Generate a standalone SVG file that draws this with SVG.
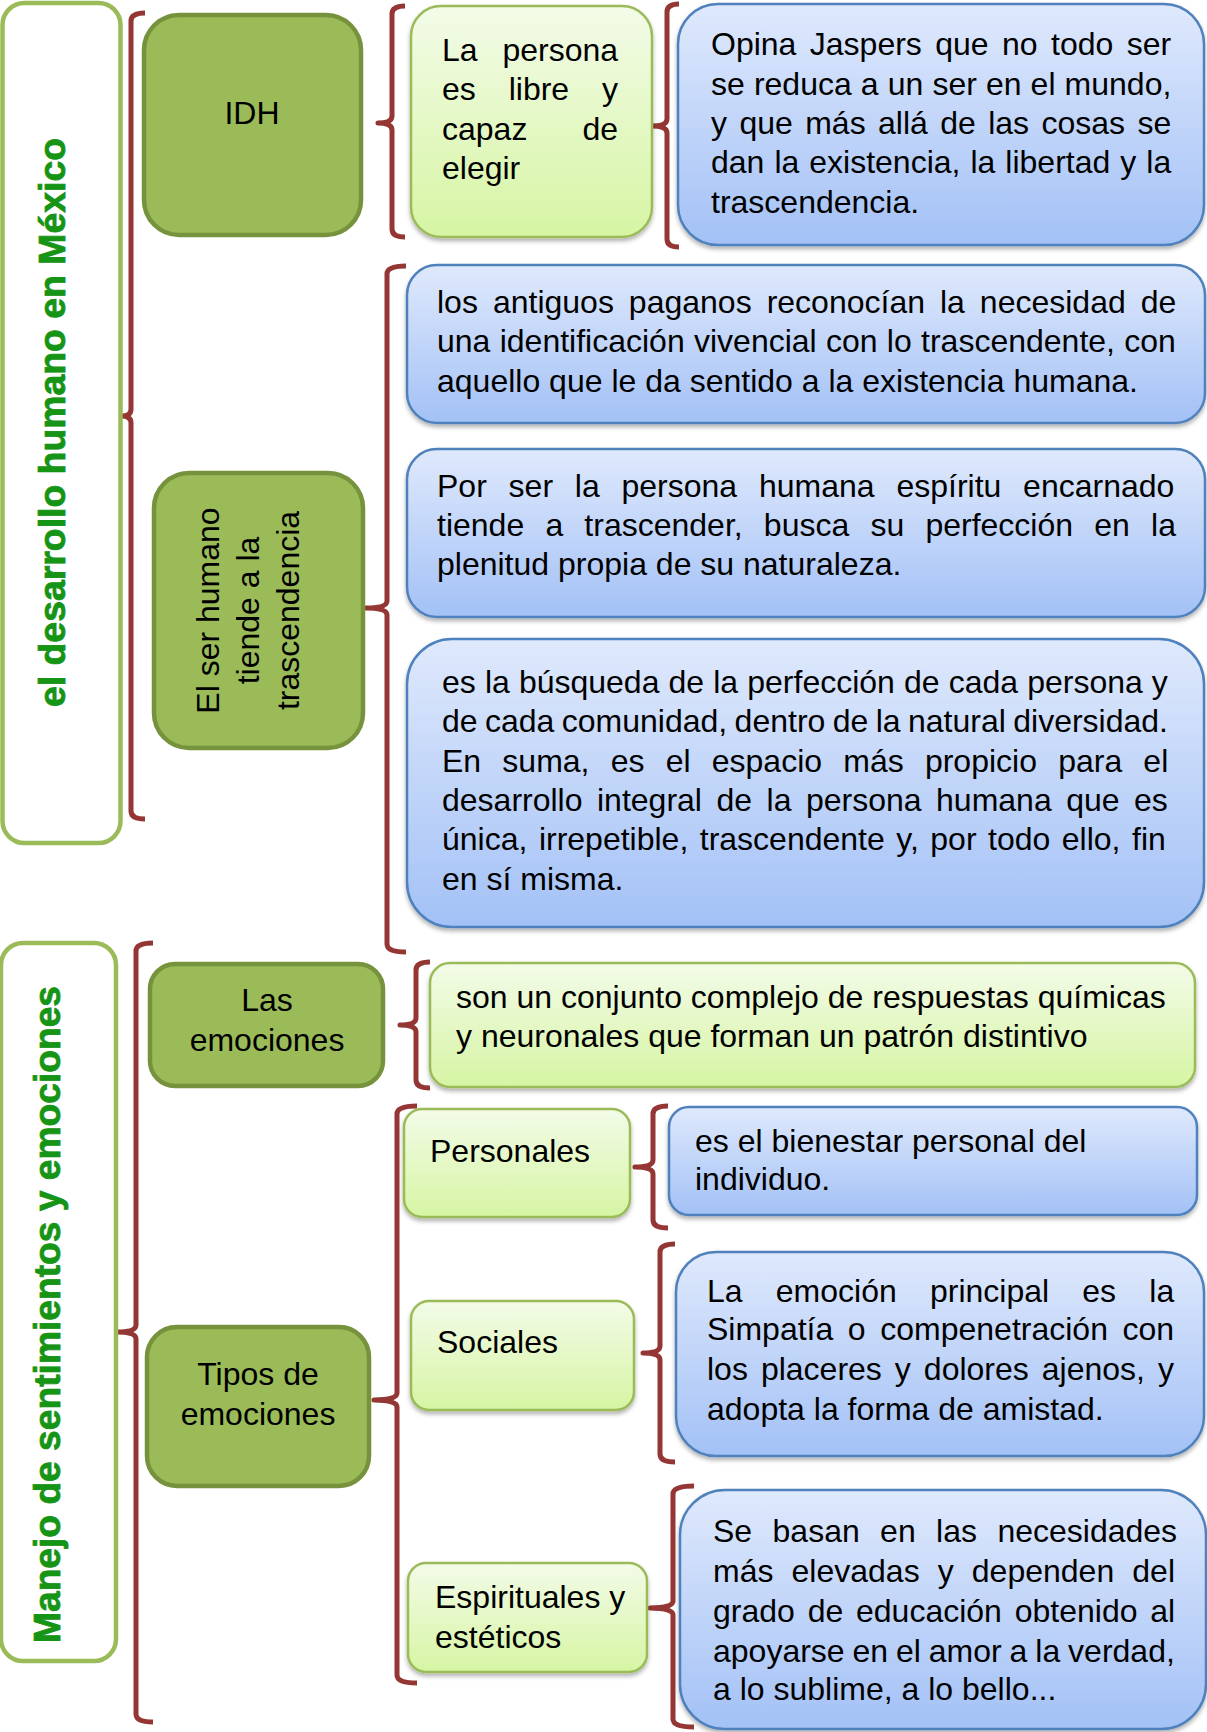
<svg xmlns="http://www.w3.org/2000/svg" width="1207" height="1732" viewBox="0 0 1207 1732">
<style>
text{font-family:"Liberation Sans",Arial,sans-serif;font-size:32px;fill:#000}
.title{font-weight:bold;font-size:37px;fill:#169416;stroke:#169416;stroke-width:0.8}
.frame{fill:#fff;stroke:#9BBB59;stroke-width:4.5}
.dark{fill:#9BBB59;stroke:#76923C;stroke-width:4.5}
.light{fill:url(#gLight);stroke:#9BBB59;stroke-width:2.5;filter:url(#sh)}
.blue{fill:url(#gBlue);stroke:#4F81BD;stroke-width:2.5;filter:url(#sh)}
.br{fill:none;stroke:#943634;stroke-width:5;stroke-linejoin:round;stroke-linecap:butt}
.mid{text-anchor:middle}
</style>
<defs>
<linearGradient id="gBlue" x1="0" y1="0" x2="0" y2="1">
<stop offset="0" stop-color="#DFE9FC"/><stop offset="1" stop-color="#A3C1F6"/>
</linearGradient>
<linearGradient id="gLight" x1="0" y1="0" x2="0" y2="1">
<stop offset="0" stop-color="#F3FBE8"/><stop offset="1" stop-color="#D6F5A3"/>
</linearGradient>
<filter id="sh" x="-5%" y="-5%" width="110%" height="120%">
<feDropShadow dx="0" dy="3" stdDeviation="2" flood-color="#000" flood-opacity="0.3"/>
</filter>
</defs>
<rect width="1207" height="1732" fill="#fff"/>

<g id="connectors">
<path class="br" d="M145 13 Q131 13 131 21 L131 409 Q131 416 122 416 Q131 416 131 423 L131 811 Q131 819 145 819"/>
<path class="br" d="M405 6 Q392 6 392 14 L392 116 Q392 123 378 123 Q392 123 392 130 L392 229 Q392 237 405 237"/>
<path class="br" d="M679 4 Q667 4 667 12 L667 119 Q667 126 652 126 Q667 126 667 133 L667 239 Q667 247 679 247"/>
<path class="br" d="M406 266 Q387 266 387 274 L387 601 Q387 608 366 608 Q387 608 387 615 L387 944 Q387 952 406 952"/>
<path class="br" d="M153 943 Q136 943 136 951 L136 1325 Q136 1332 117 1332 Q136 1332 136 1339 L136 1714 Q136 1722 153 1722"/>
<path class="br" d="M430 962 Q416 962 416 970 L416 1018 Q416 1025 400 1025 Q416 1025 416 1032 L416 1080 Q416 1088 430 1088"/>
<path class="br" d="M417 1106 Q397 1106 397 1114 L397 1393 Q397 1400 374 1400 Q397 1400 397 1407 L397 1675 Q397 1683 417 1683"/>
<path class="br" d="M668 1106 Q653 1106 653 1114 L653 1160 Q653 1167 635 1167 Q653 1167 653 1174 L653 1220 Q653 1228 668 1228"/>
<path class="br" d="M675 1244 Q660 1244 660 1252 L660 1346 Q660 1353 643 1353 Q660 1353 660 1360 L660 1454 Q660 1462 675 1462"/>
<path class="br" d="M694 1486 Q673 1486 673 1494 L673 1601 Q673 1608 650 1608 Q673 1608 673 1615 L673 1719 Q673 1727 694 1727"/>
</g>

<g id="frame-desarrollo">
<rect class="frame" x="2.5" y="3" width="118" height="840" rx="22"/>
<text class="title mid" transform="translate(65,422.5) rotate(-90)" textLength="569" lengthAdjust="spacingAndGlyphs">el desarrollo humano en México</text>
</g>

<g id="frame-manejo">
<rect class="frame" x="1" y="943" width="115" height="718" rx="22"/>
<text class="title mid" transform="translate(60,1314.5) rotate(-90)" textLength="657" lengthAdjust="spacingAndGlyphs">Manejo de sentimientos y emociones</text>
</g>

<g id="node-idh">
<rect class="dark" x="144" y="15" width="217" height="220" rx="35"/>
<text class="mid" x="252" y="124">IDH</text>
</g>

<g id="node-persona">
<rect class="light" x="411" y="6" width="241" height="231" rx="30"/>
<text x="442" y="61" style="word-spacing:15.9px">La persona</text>
<text x="442" y="100" style="word-spacing:24px">es libre y</text>
<text x="442" y="140" style="word-spacing:46.1px">capaz de</text>
<text x="442" y="179">elegir</text>
</g>

<g id="node-jaspers">
<rect class="blue" x="678" y="4" width="526" height="241" rx="40"/>
<text x="711" y="55" style="word-spacing:4.5px">Opina Jaspers que no todo ser</text>
<text x="711" y="95" style="word-spacing:0.2px">se reduca a un ser en el mundo,</text>
<text x="711" y="134" style="word-spacing:3.5px">y que más allá de las cosas se</text>
<text x="711" y="173" style="word-spacing:1.1px">dan la existencia, la libertad y la</text>
<text x="711" y="213">trascendencia.</text>
</g>

<g id="node-ser-humano">
<rect class="dark" x="154" y="473" width="209" height="275" rx="35"/>
<g transform="translate(258,610.5) rotate(-90)">
<text class="mid" x="0" y="-39">El ser humano</text>
<text class="mid" x="0" y="1">tiende a la</text>
<text class="mid" x="0" y="41">trascendencia</text>
</g>
</g>

<g id="node-paganos">
<rect class="blue" x="407" y="265" width="798" height="158" rx="30"/>
<text x="437" y="313" style="word-spacing:6.1px">los antiguos paganos reconocían la necesidad de</text>
<text x="437" y="352" style="word-spacing:0.4px">una identificación vivencial con lo trascendente, con</text>
<text x="437" y="392">aquello que le da sentido a la existencia humana.</text>
</g>

<g id="node-espiritu">
<rect class="blue" x="407" y="449" width="798" height="168" rx="30"/>
<text x="437" y="497" style="word-spacing:12.9px">Por ser la persona humana espíritu encarnado</text>
<text x="437" y="536" style="word-spacing:12.3px">tiende a trascender, busca su perfección en la</text>
<text x="437" y="575">plenitud propia de su naturaleza.</text>
</g>

<g id="node-busqueda">
<rect class="blue" x="407" y="639" width="797" height="288" rx="45"/>
<text x="442" y="693" style="word-spacing:0.2px">es la búsqueda de la perfección de cada persona y</text>
<text x="442" y="732" style="word-spacing:-1.5px">de cada comunidad, dentro de la natural diversidad.</text>
<text x="442" y="772" style="word-spacing:12.3px">En suma, es el espacio más propicio para el</text>
<text x="442" y="811" style="word-spacing:5.6px">desarrollo integral de la persona humana que es</text>
<text x="442" y="850" style="word-spacing:2.6px">única, irrepetible, trascendente y, por todo ello, fin</text>
<text x="442" y="890">en sí misma.</text>
</g>

<g id="node-las-emociones">
<rect class="dark" x="150" y="964" width="233" height="122" rx="25"/>
<text class="mid" x="267" y="1011">Las</text>
<text class="mid" x="267" y="1051">emociones</text>
</g>

<g id="node-conjunto">
<rect class="light" x="430" y="963" width="765" height="124" rx="20"/>
<text x="456" y="1008">son un conjunto complejo de respuestas químicas</text>
<text x="456" y="1047">y neuronales que forman un patrón distintivo</text>
</g>

<g id="node-tipos">
<rect class="dark" x="147" y="1327" width="222" height="159" rx="30"/>
<text class="mid" x="258" y="1385">Tipos de</text>
<text class="mid" x="258" y="1425">emociones</text>
</g>

<g id="node-personales">
<rect class="light" x="404" y="1109" width="226" height="108" rx="18"/>
<text x="430" y="1162">Personales</text>
</g>

<g id="node-bienestar">
<rect class="blue" x="669" y="1107" width="528" height="108" rx="20"/>
<text x="695" y="1152">es el bienestar personal del</text>
<text x="695" y="1190">individuo.</text>
</g>

<g id="node-sociales">
<rect class="light" x="411" y="1301" width="223" height="109" rx="18"/>
<text x="437" y="1353">Sociales</text>
</g>

<g id="node-simpatia">
<rect class="blue" x="676" y="1252" width="528" height="204" rx="40"/>
<text x="707" y="1302" style="word-spacing:24.3px">La emoción principal es la</text>
<text x="707" y="1340" style="word-spacing:5.7px">Simpatía o compenetración con</text>
<text x="707" y="1380" style="word-spacing:4.1px">los placeres y dolores ajenos, y</text>
<text x="707" y="1420">adopta la forma de amistad.</text>
</g>

<g id="node-espirituales">
<rect class="light" x="408" y="1563" width="239" height="109" rx="18"/>
<text x="435" y="1608">Espirituales y</text>
<text x="435" y="1648">estéticos</text>
</g>

<g id="node-necesidades">
<rect class="blue" x="680" y="1490" width="526" height="239" rx="45"/>
<text x="713" y="1542" style="word-spacing:11.5px">Se basan en las necesidades</text>
<text x="713" y="1582" style="word-spacing:9.2px">más elevadas y dependen del</text>
<text x="713" y="1622" style="word-spacing:3.9px">grado de educación obtenido al</text>
<text x="713" y="1662" style="word-spacing:-1px">apoyarse en el amor a la verdad,</text>
<text x="713" y="1700">a lo sublime, a lo bello...</text>
</g>
</svg>
